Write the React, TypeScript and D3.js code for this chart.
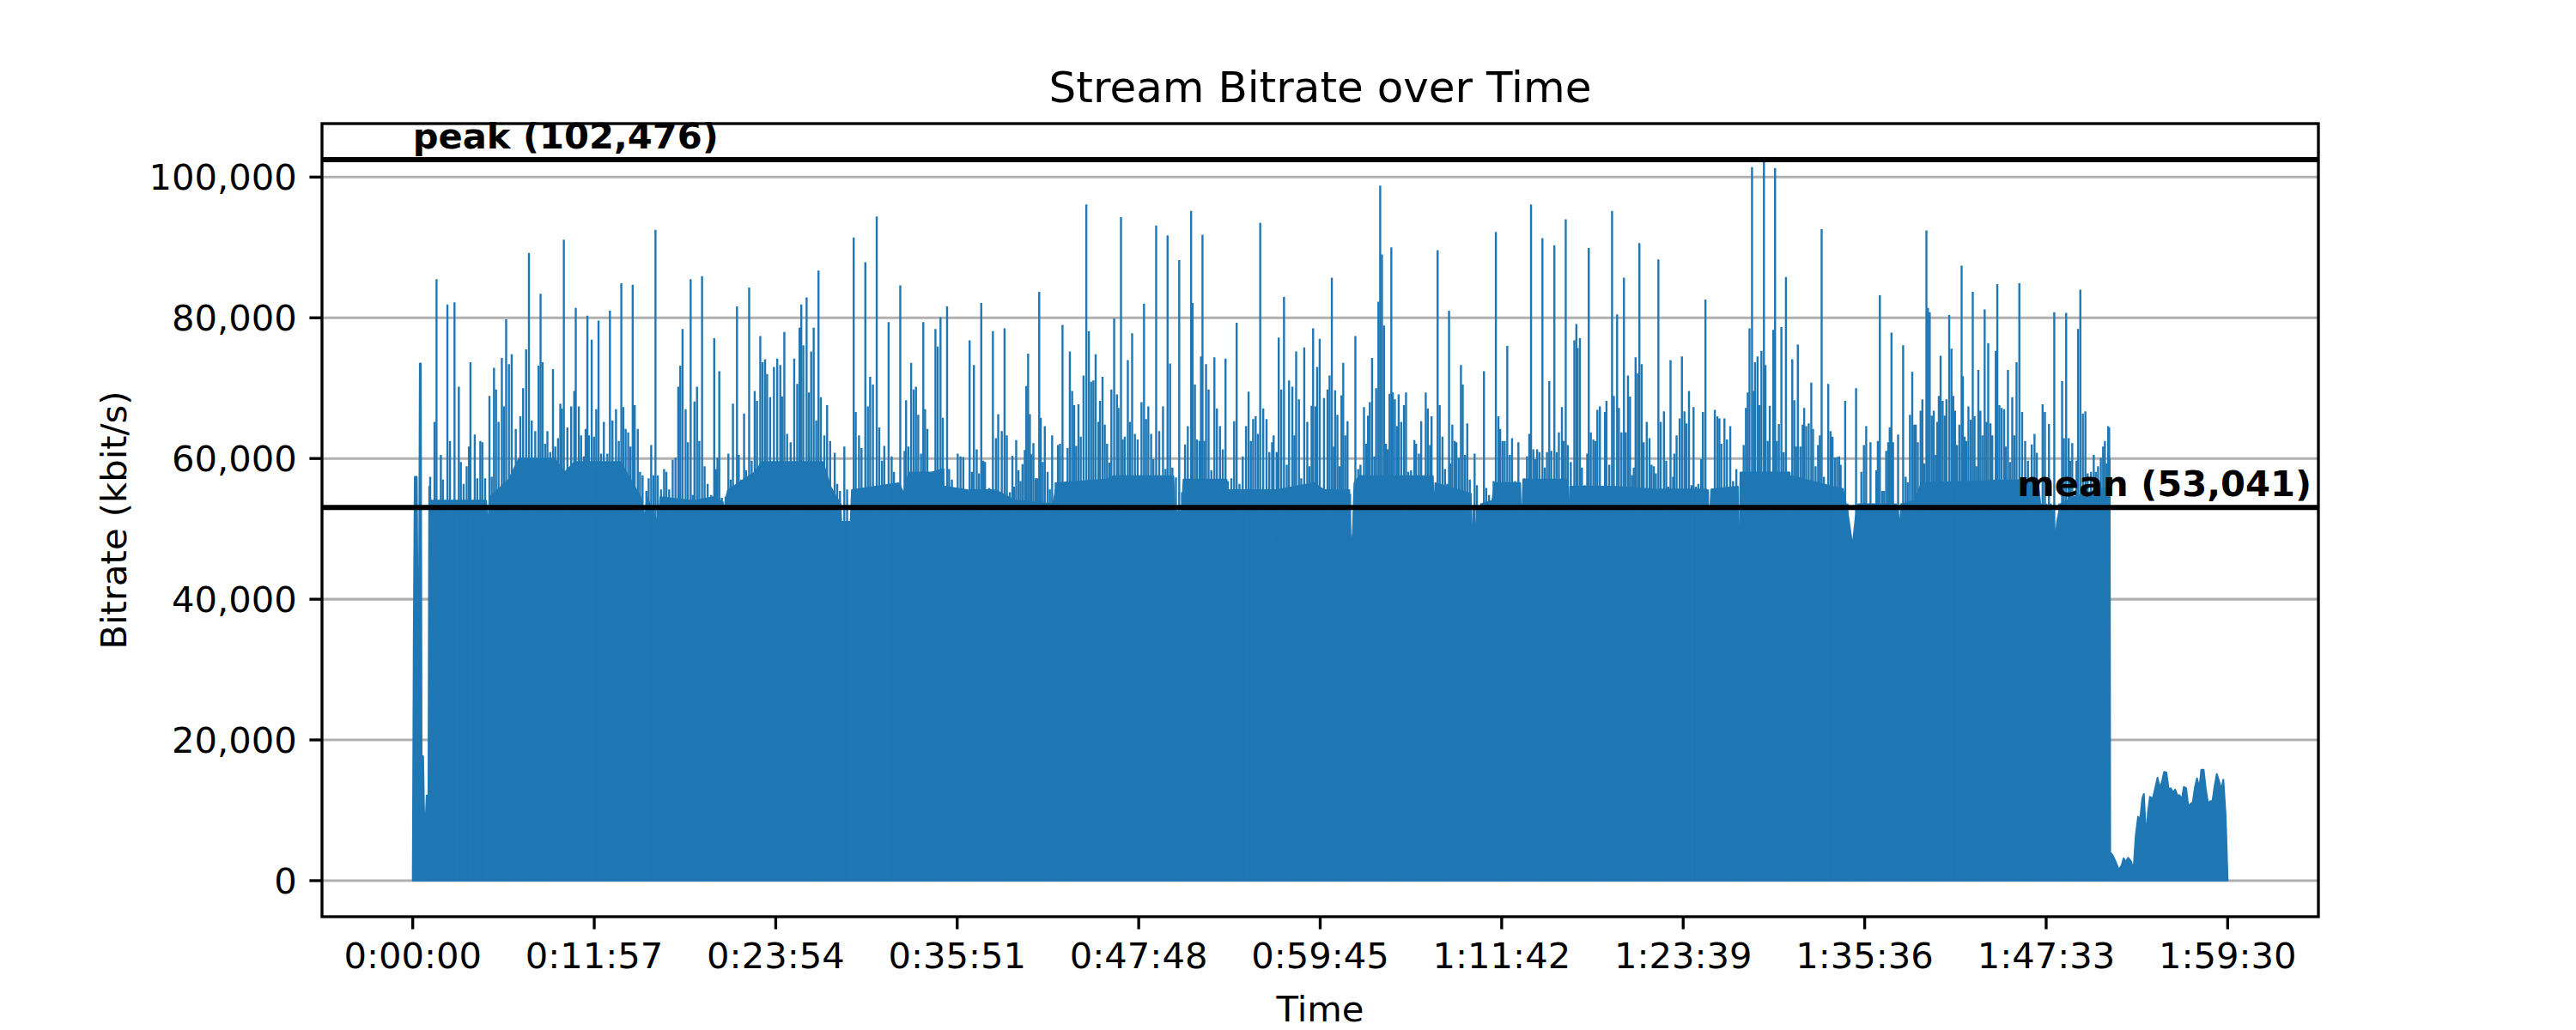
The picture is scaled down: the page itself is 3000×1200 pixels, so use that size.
import React from 'react';
import * as d3 from 'd3';

const W = 3000;
const H = 1200;
const AX = { left: 375, right: 2700, top: 144, bottom: 1068 };

const durationSec = 7170;
const meanKbps = 53041;
const peakKbps = 102476;
const yTicks = [0, 20000, 40000, 60000, 80000, 100000];
const xTickLabels = ['0:00:00', '0:11:57', '0:23:54', '0:35:51', '0:47:48', '0:59:45', '1:11:42', '1:23:39', '1:35:36', '1:47:33', '1:59:30'];

// solid part of the bitrate fill: [seconds, kbit/s]
const floorSeries: [number, number][] = [
  [0, 0], [4, 35000], [8, 57400], [16, 57400], [19, 41000], [25, 42000], [28, 73500], [32, 73500], [35, 17700], [41, 17700],
  [45, 9500], [52, 9500], [55, 12100], [62, 12100], [65, 56000], [70, 54000], [290, 54000], [297, 50000], [304, 54500],
  [335, 55500], [380, 57000], [420, 60000], [560, 60000], [600, 58000], [640, 59500], [820, 59500], [900, 54500],
  [919, 51500], [925, 54500], [972, 50500], [978, 54500], [1100, 54000], [1106, 51000], [1112, 54000], [1185, 54500],
  [1225, 53800], [1230, 51500], [1235, 53800], [1245, 55500], [1350, 58000], [1380, 59500], [1620, 59500], [1650, 56000],
  [1690, 53500], [1693, 51000], [1730, 51000], [1735, 55500], [1920, 56500], [1940, 55000], [1960, 58000], [2050, 58000],
  [2097, 58500], [2099, 50000], [2103, 56000], [2190, 55500], [2193, 52000], [2197, 55500], [2296, 55500], [2299, 52000],
  [2303, 55500], [2380, 54000], [2530, 53500], [2545, 56500], [2740, 57000], [2770, 57500], [3005, 57500], [3010, 52500],
  [3040, 52500], [3045, 57000], [3215, 57000], [3220, 53800], [3225, 55500], [3410, 55500], [3411, 45200], [3413, 55500],
  [3560, 56500], [3600, 55500], [3700, 55500], [3706, 47000], [3714, 49500], [3720, 56500], [3740, 57500], [4030, 57500],
  [4035, 51300], [4040, 56500], [4180, 55000], [4184, 43800], [4190, 53000], [4204, 48500], [4210, 53000], [4214, 51300],
  [4220, 53500], [4265, 54000], [4275, 56500], [4375, 56500], [4381, 48300], [4387, 57000], [4560, 57000], [4566, 49000],
  [4572, 56000], [4745, 56000], [4910, 55600], [4913, 46300], [4917, 55600], [5110, 55600], [5124, 51500], [5130, 55600],
  [5235, 56000], [5240, 37000], [5245, 58000], [5440, 58000], [5443, 52500], [5447, 57500], [5650, 55600], [5670, 52000],
  [5688, 47500], [5700, 51500], [5710, 53500], [5855, 53500], [5857, 50500], [5860, 53500], [5876, 50500], [5880, 53500],
  [5935, 54000], [5960, 56500], [6420, 57000], [6430, 53500], [6480, 52500], [6490, 48300], [6496, 51000], [6510, 53500],
  [6560, 54500], [6700, 56000], [6704, 60000], [6706, 4000], [6707, 3990], [6716, 3580], [6729, 2560], [6740, 1550],
  [6751, 2160], [6759, 3170], [6768, 2680], [6777, 3250], [6788, 2770], [6798, 1550], [6807, 6430], [6816, 9080],
  [6824, 8670], [6833, 11720], [6839, 12330], [6848, 6020], [6855, 9680], [6863, 11920], [6874, 11640], [6885, 13340],
  [6893, 14640], [6902, 13140], [6911, 14160], [6919, 15460], [6928, 15380], [6937, 12940], [6945, 13140], [6954, 12530],
  [6963, 12940], [6971, 12130], [6980, 12130], [6989, 11520], [6997, 13340], [7006, 13140], [7015, 10490], [7023, 10900],
  [7032, 11110], [7041, 13340], [7049, 14560], [7058, 13140], [7066, 15780], [7075, 15780], [7084, 12940], [7093, 10900],
  [7101, 11310], [7110, 11310], [7118, 13340], [7127, 15170], [7136, 14160], [7145, 12940], [7153, 14360], [7162, 9280],
  [7170, 0],
];

// one-second bursts rising above the solid part: [seconds, kbit/s]
const peakSeries: [number, number][] = [
  [69, 57400], [86, 65200], [94, 85500], [111, 60500], [119, 57000], [137, 81900], [147, 62500], [165, 82200], [182, 70200],
  [190, 59500], [201, 56400], [213, 58900], [222, 61700], [228, 73700], [245, 63400], [255, 57200], [267, 62500], [275, 62300],
  [286, 57200], [303, 68900], [312, 57400], [321, 72900], [329, 69800], [339, 65200], [352, 74300], [360, 67400], [369, 79800],
  [380, 73400], [391, 74800], [407, 64200], [425, 66000], [436, 70000], [448, 75500], [459, 89200], [470, 65400], [484, 63900],
  [497, 73200], [505, 83400], [513, 73700], [523, 62100], [532, 63900], [543, 60900], [554, 72700], [563, 61700], [574, 62900],
  [583, 67800], [589, 67100], [597, 91100], [611, 64400], [626, 67400], [638, 69600], [644, 81400], [656, 67400], [665, 63300],
  [676, 60300], [683, 64200], [690, 80300], [696, 63300], [707, 76900], [716, 63100], [725, 67000], [734, 79600], [744, 60700],
  [755, 65200], [769, 60700], [779, 81000], [789, 65400], [803, 67000], [814, 62500], [824, 84900], [832, 67300], [841, 64200],
  [851, 63700], [860, 61700], [869, 84700], [877, 67600], [889, 64200], [898, 58100], [908, 57600], [923, 55400], [932, 57200],
  [942, 61900], [951, 57600], [959, 92500], [968, 57600], [981, 55600], [993, 58500], [1002, 58100], [1013, 55600], [1027, 59800],
  [1038, 60100], [1049, 70200], [1057, 73200], [1066, 78400], [1078, 67000], [1087, 62300], [1098, 85500], [1106, 54800],
  [1113, 68100], [1123, 70200], [1132, 62500], [1143, 85900], [1153, 58900], [1165, 56400], [1179, 54800],
  [1191, 77100], [1198, 58500], [1204, 60100], [1211, 72400], [1221, 54400], [1236, 54600], [1247, 60700], [1256, 57000],
  [1265, 67800], [1273, 55600], [1281, 81600], [1288, 60500], [1298, 57000], [1309, 66400], [1317, 58300], [1329, 84300],
  [1339, 59700], [1351, 69600], [1360, 68200], [1373, 77400], [1382, 73700], [1392, 74100], [1400, 72000], [1412, 68700],
  [1427, 73000], [1440, 74200], [1452, 73300], [1459, 68800], [1468, 78000], [1479, 63500], [1493, 62300], [1507, 74200],
  [1519, 70600], [1528, 78600], [1535, 81900], [1543, 76100], [1556, 82900], [1565, 69400], [1574, 75200], [1584, 78600],
  [1594, 65400], [1603, 86700], [1612, 68700], [1626, 63300], [1637, 67600], [1649, 62500], [1667, 60800], [1677, 56400],
  [1688, 55400], [1705, 61700], [1716, 55600], [1742, 91400], [1750, 66600], [1763, 63300], [1773, 61500], [1788, 87900],
  [1798, 67400], [1807, 71600], [1818, 70500], [1833, 94400], [1843, 64400], [1854, 59700], [1863, 61800], [1880, 79400],
  [1892, 60300], [1901, 58100], [1914, 56200], [1926, 84600], [1936, 53600], [1943, 61100], [1949, 68300], [1958, 61700],
  [1969, 73600], [1979, 69800], [1988, 70200], [1997, 66200], [2008, 60700], [2017, 79400], [2024, 67000], [2033, 64200],
  [2044, 56800], [2056, 55200], [2065, 78400], [2074, 75900], [2085, 80100], [2094, 65800], [2111, 81600], [2119, 58500],
  [2130, 57000], [2144, 55200], [2153, 60700], [2164, 60300], [2175, 60200], [2186, 55600], [2200, 76800], [2209, 58100],
  [2217, 73300], [2228, 61300], [2237, 57900], [2246, 82100], [2254, 59700], [2261, 59500], [2277, 55800], [2292, 78100],
  [2304, 62900], [2313, 66300], [2327, 63900], [2338, 78500], [2347, 63300], [2359, 55200], [2369, 60400],
  [2376, 56000], [2384, 62600], [2393, 58300], [2401, 56800], [2409, 59200], [2418, 61200], [2424, 70300], [2431, 74900],
  [2438, 66300], [2444, 60600], [2452, 62200], [2461, 57200], [2468, 57200], [2475, 83700], [2481, 65800], [2489, 59500],
  [2497, 64600], [2508, 58100], [2517, 55600], [2526, 63300], [2540, 56600], [2549, 61900], [2557, 62100], [2567, 79000],
  [2578, 55800], [2587, 61500], [2596, 75200], [2605, 69600], [2613, 67600], [2621, 61800], [2630, 67700], [2639, 63100],
  [2650, 71800], [2661, 96100], [2671, 78100], [2680, 70900], [2689, 71100], [2698, 74800], [2709, 65200], [2715, 68200],
  [2725, 71600], [2734, 64800], [2743, 62100], [2752, 59400], [2760, 69800], [2771, 79900], [2782, 69100], [2788, 67200],
  [2798, 94300], [2805, 62700], [2813, 63100], [2825, 74000], [2833, 65200], [2842, 77800], [2853, 63500], [2864, 62700],
  [2879, 68000], [2889, 82000], [2897, 65600], [2906, 67400], [2917, 63500], [2926, 59900], [2937, 93100], [2949, 63900],
  [2964, 67400], [2974, 58500], [2982, 91700], [2992, 73500], [3001, 58700], [3015, 57300], [3028, 88200], [3039, 55200],
  [3051, 62000], [3062, 64600], [3075, 95200], [3081, 82100], [3090, 70500], [3098, 62700], [3108, 62500], [3114, 74500],
  [3120, 91800], [3127, 62500], [3134, 73400], [3144, 69800], [3155, 58300], [3167, 74400], [3177, 67100], [3189, 64600],
  [3200, 61300], [3211, 74200], [3220, 56800], [3234, 57200], [3245, 65300], [3255, 79300], [3266, 56400], [3279, 60300],
  [3292, 64600], [3302, 69500], [3311, 62500], [3320, 65600], [3330, 66000], [3339, 63500], [3348, 93500], [3360, 67100],
  [3373, 65600], [3384, 60900], [3395, 62300], [3401, 63300], [3413, 60900], [3421, 77200], [3431, 69800], [3442, 83000],
  [3453, 59100], [3462, 71100], [3475, 70200], [3483, 63300], [3490, 75200], [3501, 68400], [3510, 57200], [3522, 75800],
  [3534, 65200], [3542, 58900], [3551, 67500], [3557, 78500],
  [3566, 67400], [3573, 73000], [3583, 77000], [3591, 55400], [3600, 68600], [3614, 69800], [3622, 71800], [3631, 85700],
  [3639, 61700], [3644, 69700], [3653, 66200], [3661, 58900], [3669, 69000], [3676, 73600], [3684, 63300], [3693, 65300],
  [3703, 55000], [3724, 77400], [3735, 58500], [3744, 59100], [3752, 57600], [3758, 67300], [3767, 62100], [3774, 66100],
  [3781, 68000], [3790, 74300], [3799, 60300], [3806, 70000], [3815, 82300], [3822, 98800], [3829, 89000], [3837, 78900],
  [3845, 62100], [3851, 61300], [3859, 69200], [3866, 90000], [3872, 69400], [3880, 68400], [3888, 64600], [3895, 69100],
  [3905, 65200], [3916, 67600], [3924, 69400], [3933, 58100], [3944, 58300], [3957, 62600], [3964, 62100], [3975, 60700],
  [3984, 65300], [3992, 56800], [4002, 69400], [4010, 67100], [4019, 61900], [4025, 66000], [4049, 89600], [4057, 67600],
  [4068, 63100], [4078, 58500], [4087, 56400], [4094, 81000], [4100, 59300], [4107, 64800], [4116, 62500], [4123, 62300],
  [4132, 60100], [4141, 73300], [4148, 70500], [4157, 60500], [4166, 65000], [4176, 57000], [4195, 60700], [4204, 56200],
  [4222, 53600], [4232, 72400], [4241, 55800], [4252, 54800], [4261, 53800], [4270, 56800], [4279, 92200], [4289, 66000],
  [4296, 64200], [4305, 62500], [4314, 62500], [4324, 76000], [4334, 60500], [4343, 62900], [4355, 56800], [4368, 62300],
  [4391, 57200], [4402, 60300], [4411, 63500], [4418, 96100], [4427, 61300], [4434, 59900], [4442, 61300], [4451, 60900],
  [4463, 91300], [4472, 58700], [4481, 60900], [4490, 71000], [4498, 61100], [4510, 90300], [4519, 60900], [4528, 63700],
  [4540, 67300], [4547, 62500], [4555, 94000], [4563, 61900], [4575, 59500], [4589, 76800], [4597, 79100], [4602, 75700],
  [4611, 77100], [4619, 58700], [4630, 56200], [4640, 60700], [4646, 89900], [4654, 63700], [4664, 62700], [4672, 62500],
  [4680, 66900], [4690, 67400], [4702, 55200], [4710, 66600], [4716, 68200], [4727, 59100], [4738, 95200], [4745, 68900],
  [4758, 80500], [4765, 67200], [4775, 63700], [4785, 85700], [4792, 63700], [4801, 71800], [4809, 68800], [4817, 57600],
  [4824, 58700], [4831, 74400], [4840, 72100], [4846, 90600], [4855, 73400], [4863, 62300], [4875, 65200], [4886, 62900],
  [4894, 59100], [4903, 58900], [4911, 57900], [4921, 88300], [4930, 65200], [4943, 66700], [4952, 59700], [4960, 56000],
  [4969, 74000], [4979, 57400], [4984, 60700], [4993, 63300], [5005, 65700], [5014, 74500], [5024, 66700], [5032, 65000],
  [5042, 69600], [5052, 56200], [5060, 67300], [5069, 56000], [5079, 56400], [5090, 59900], [5097, 66600], [5107, 82600],
  [5117, 55600], [5144, 66900], [5154, 66000], [5162, 65700], [5170, 62100], [5182, 65700], [5192, 62700], [5205, 64600],
  [5216, 56800], [5229, 58500], [5258, 61900], [5267, 67200], [5274, 69400], [5281, 78500], [5291, 101400], [5298, 69600],
  [5303, 73700], [5313, 74500], [5321, 67600], [5328, 75300], [5338, 102476], [5344, 73300], [5353, 62500], [5361, 67500],
  [5369, 58100], [5375, 78300], [5382, 101300], [5389, 62500], [5397, 64900], [5407, 78700], [5416, 60900], [5425, 85800],
  [5434, 58100], [5450, 74100], [5458, 68300], [5465, 61700], [5472, 76200], [5482, 61700], [5491, 64800], [5497, 67200],
  [5505, 64600], [5515, 65000], [5525, 70800], [5532, 64200], [5542, 58900], [5552, 61900], [5559, 63300], [5566, 92600],
  [5575, 57400], [5584, 53200], [5592, 70600], [5601, 63900], [5609, 63100], [5618, 60100], [5627, 60200], [5635, 60300],
  [5641, 59100], [5648, 55800], [5659, 68200], [5668, 53600], [5702, 70000], [5713, 52400], [5723, 58100], [5733, 61900],
  [5742, 64600], [5751, 53600], [5759, 62300], [5770, 53600], [5782, 58300], [5788, 62500], [5796, 83200], [5805, 55400],
  [5813, 55400], [5821, 61100], [5829, 62300], [5835, 64400], [5842, 77900], [5848, 62300], [5868, 63400], [5888, 76100],
  [5898, 57400], [5906, 56600], [5915, 66200], [5924, 72300], [5932, 64800],
  [5938, 64800], [5946, 62300], [5957, 66800], [5964, 68400], [5972, 59300], [5980, 92400], [5986, 81400], [5993, 80800],
  [6001, 66100], [6009, 66800], [6017, 60500], [6023, 65200], [6029, 68900], [6036, 74600], [6044, 68200], [6052, 66100],
  [6059, 68400], [6070, 80400], [6079, 75600], [6086, 68900], [6093, 66800], [6101, 61900], [6110, 64800], [6119, 87400],
  [6124, 71700], [6131, 63100], [6138, 62500], [6146, 67400], [6155, 65500], [6163, 83700], [6170, 66000], [6177, 58900],
  [6185, 72600], [6193, 66800], [6201, 63300], [6210, 81200], [6217, 65200], [6224, 76400], [6233, 65000], [6240, 63300],
  [6248, 57000], [6254, 75300], [6260, 84800], [6268, 67600], [6277, 67200], [6287, 67000], [6293, 61700], [6302, 72600],
  [6310, 59500], [6319, 68700], [6327, 63300], [6336, 73700], [6347, 84900], [6358, 66600], [6370, 62500], [6381, 59700],
  [6396, 62000], [6407, 63500], [6416, 60800], [6426, 54000], [6439, 67700], [6448, 66600], [6454, 53600], [6464, 64900],
  [6471, 53600], [6485, 80800], [6505, 53600], [6516, 71000], [6523, 62900], [6532, 80700], [6542, 62900], [6548, 59700],
  [6556, 62200], [6565, 53600], [6573, 59700], [6579, 78400], [6588, 84000], [6598, 66400], [6608, 66700], [6617, 57900],
  [6630, 58100], [6641, 60500], [6649, 58100], [6658, 58900], [6669, 60100], [6678, 61700], [6685, 62500], [6692, 59300],
  [6698, 64600], [6702, 64400],
];

const BLUE = '#1f77b4';
const FONT = 'DejaVu Sans';
const FS = 41.67;

function parseHMS(s: string): number {
  const [h, m, sec] = s.split(':').map(Number);
  return h * 3600 + m * 60 + sec;
}

export default function App() {
  const x = d3.scaleLinear().domain([-0.05 * durationSec, 1.05 * durationSec]).range([AX.left, AX.right]);
  const y = d3.scaleLinear().domain([-0.05 * peakKbps, 1.05 * peakKbps]).range([AX.bottom, AX.top]);
  const area = d3.area<[number, number]>().x((d) => x(d[0])).y0(y(0)).y1((d) => y(d[1]));
  const fmt = d3.format(',');
  const xTicks = xTickLabels.map((l) => ({ label: l, t: parseHMS(l) }));

  return (
    <svg width={W} height={H} viewBox={`0 0 ${W} ${H}`} style={{ position: 'absolute', left: 0, top: 0, background: '#fff' }} fontFamily={FONT}>
      <rect x={0} y={0} width={W} height={H} fill="#fff" />
      <defs>
        <clipPath id="plotClip">
          <rect x={AX.left} y={AX.top} width={AX.right - AX.left} height={AX.bottom - AX.top} />
        </clipPath>
      </defs>
      {/* grid */}
      {yTicks.map((v) => (
        <line key={`g${v}`} x1={AX.left} x2={AX.right} y1={y(v)} y2={y(v)} stroke="#b0b0b0" strokeWidth={3.1} />
      ))}
      <g clipPath="url(#plotClip)">
        <path d={area(floorSeries) || ''} fill={BLUE} stroke={BLUE} strokeWidth={2} strokeLinejoin="round" />
        {peakSeries.map(([t, v], i) => (
          <line key={`p${i}`} x1={x(t)} x2={x(t)} y1={y(0)} y2={y(v)} stroke={BLUE} strokeWidth={2.4} />
        ))}
        <line x1={AX.left} x2={AX.right} y1={y(peakKbps)} y2={y(peakKbps)} stroke="#000" strokeWidth={6} />
        <line x1={AX.left} x2={AX.right} y1={y(meanKbps)} y2={y(meanKbps)} stroke="#000" strokeWidth={6} />
      </g>
      <text x={x(0)} y={y(peakKbps) - 13.5} fontSize={FS} fontWeight="bold" textAnchor="start">{`peak (${fmt(peakKbps)})`}</text>
      <text x={2692} y={y(meanKbps) - 13} fontSize={FS} fontWeight="bold" textAnchor="end">{`mean (${fmt(meanKbps)})`}</text>
      {/* spines */}
      <rect x={AX.left} y={AX.top} width={AX.right - AX.left} height={AX.bottom - AX.top} fill="none" stroke="#000" strokeWidth={3.33} />
      {/* y ticks */}
      {yTicks.map((v) => (
        <g key={`yt${v}`}>
          <line x1={AX.left - 14.6} x2={AX.left} y1={y(v)} y2={y(v)} stroke="#000" strokeWidth={3.33} />
          <text x={AX.left - 29.2} y={y(v) + 15.2} fontSize={FS} textAnchor="end">{fmt(v)}</text>
        </g>
      ))}
      {/* x ticks */}
      {xTicks.map((d) => (
        <g key={`xt${d.label}`}>
          <line x1={x(d.t)} x2={x(d.t)} y1={AX.bottom} y2={AX.bottom + 14.6} stroke="#000" strokeWidth={3.33} />
          <text x={x(d.t)} y={1128} fontSize={FS} textAnchor="middle">{d.label}</text>
        </g>
      ))}
      <text x={(AX.left + AX.right) / 2} y={1190} fontSize={FS} textAnchor="middle">Time</text>
      <text transform={`translate(147, ${(AX.top + AX.bottom) / 2}) rotate(-90)`} fontSize={FS} textAnchor="middle">Bitrate (kbit/s)</text>
      <text x={(AX.left + AX.right) / 2} y={119} fontSize={50} textAnchor="middle">Stream Bitrate over Time</text>
    </svg>
  );
}
